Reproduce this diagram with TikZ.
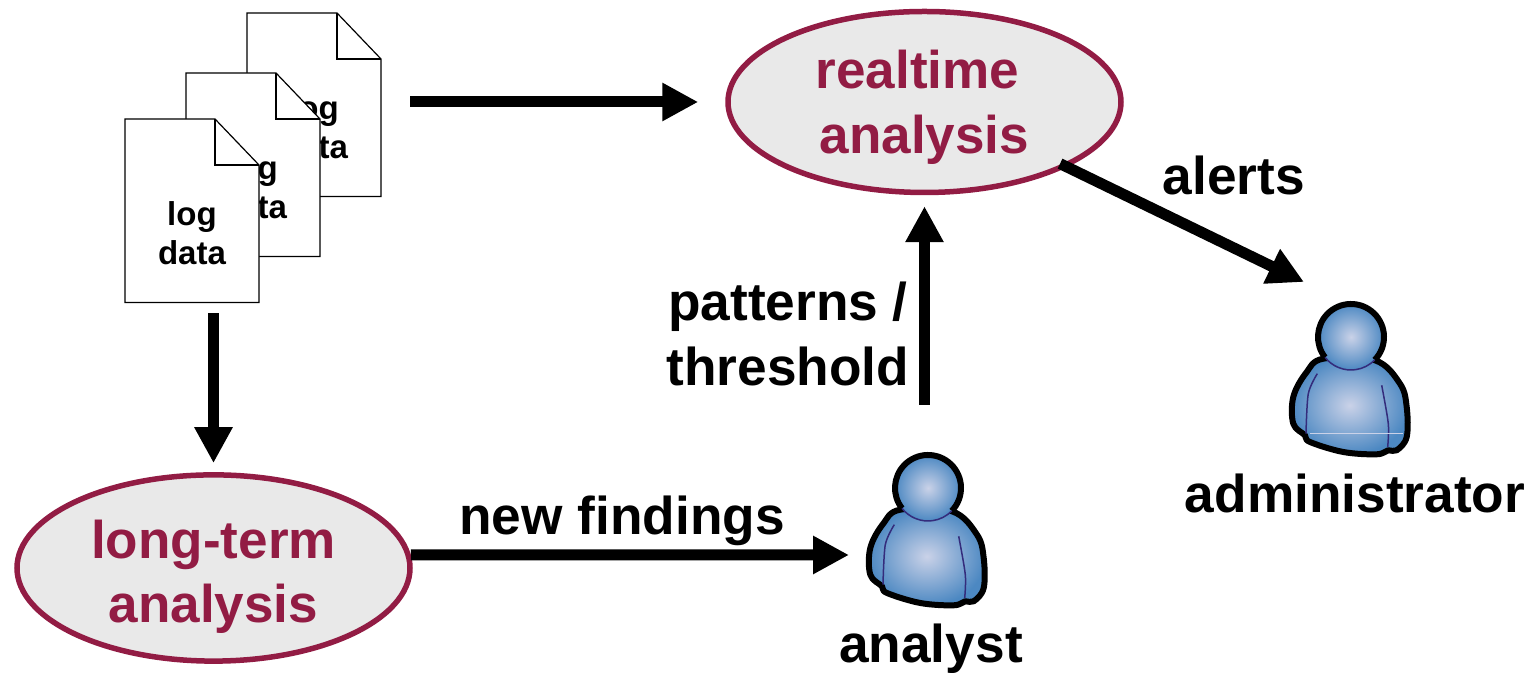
\documentclass[tikz,border=0pt]{standalone}
\usepackage{fontspec}
\usepackage{tikz}
\usetikzlibrary{arrows.meta,shapes.geometric}
\setmainfont{Liberation Sans}

\definecolor{wine}{RGB}{146,28,68}
\definecolor{bubble}{RGB}{233,233,233}
\definecolor{skin}{RGB}{76,136,194}
\definecolor{glow}{RGB}{202,210,232}
\definecolor{seam}{RGB}{52,44,124}

\tikzset{
  flow/.style={black, line width=0.11 cm, -{Triangle[length=0.36cm,width=0.36cm]}},
  bigtext/.style={font=\fontsize{15.15}{18.4}\selectfont\bfseries, align=center, inner sep=0},
  taskbubble/.style={ellipse, draw=wine, fill=bubble, line width=0.055 cm, text=wine, minimum width=3.93cm, minimum height=1.81cm, inner sep=0, font=\fontsize{15.1}{18.4}\selectfont\bfseries, align=center},
  logpage/.pic={
    \filldraw[fill=white, draw=black, line width=0.012 cm] (0,0) -- (0.9,0) -- (1.34,-0.46) -- (1.34,-1.835) -- (0,-1.835) -- cycle;
    \draw[black, line width=0.012 cm] (0.9,0) -- (0.9,-0.46) -- (1.34,-0.46);
    \node[minimum width=1.34cm, minimum height=1.835cm, inner sep=0, outer sep=0] (-text) at (0.67,-0.9175) {};
    \node[font=\fontsize{9.4}{11.2}\selectfont\bfseries, align=center, inner sep=0] (-label) at (0.67,-1.14) {log\\data};
  },
  person/.pic={
    \shade[draw=black, line width=0.06 cm, line join=round, inner color=glow, outer color=skin] plot[smooth cycle, tension=0.6] coordinates {(-0.277,-0.217) (-0.45,-0.36) (-0.577,-0.6) (-0.577,-0.867) (-0.46,-0.983) (-0.41,-1.05) (-0.077,-1.15) (0.257,-1.173) (0.373,-1.133) (0.457,-1.133) (0.557,-1) (0.557,-0.7) (0.49,-0.467) (0.24,-0.233)};
    \shade[inner color=glow, outer color=skin] (0,0) circle (0.33);
    \draw[black, line width=0.06 cm] (-44:0.33) arc (-44:218:0.33);
    \draw[seam, line width=0.015 cm] (218:0.33) arc (218:316:0.33);
    \draw[seam, line width=0.015 cm] plot[smooth] coordinates {(-0.337,-0.367) (-0.427,-0.567) (-0.45,-0.967)};
    \draw[seam, line width=0.015 cm] plot[smooth] coordinates {(0.307,-0.483) (0.373,-0.867) (0.367,-1.1)};
    \node[minimum width=1.2cm, minimum height=1.56cm, inner sep=0, outer sep=0] (-body) at (-0.01,-0.42) {};
  }
}

\begin{document}
\begin{tikzpicture}
\useasboundingbox (0,0) rectangle (15.29,6.73);

\pic (backlog) at (2.47,6.60) {logpage};
\pic (midlog) at (1.86,6.00) {logpage};
\pic (frontlog) at (1.25,5.54) {logpage};

\node[taskbubble] (realtime) at (9.245,5.71) {\rule{0pt}{0.49cm}realtime\rule{0.14cm}{0pt}\\analysis};
\node[taskbubble] (longterm) at (2.135,1.05) {\rule{0pt}{0.56cm}long-term\\analysis};

\pic (analyst) at (9.28,1.85) {person};
\pic (admin) at (13.51,3.36) {person};
\coordinate (glareleft) at (13.10,2.39);
\coordinate (glareright) at (14.03,2.39);
\draw[glow, line width=0.01 cm] (glareleft) -- (glareright);

\node[bigtext] (analystname) at (9.31,0.24) {analyst};
\node[bigtext] (adminname) at (13.55,1.80) {administrator};
\node[bigtext] (alertstext) at (12.34,4.98) {alerts};
\node[bigtext] (patternstext) at (7.88,3.39) {patterns /\\threshold};
\node[bigtext] (findingstext) at (6.22,1.52) {new findings};

\draw[flow, shorten <=0.29cm, shorten >=0.27cm] (backlog-text.east |- realtime.west) -- (realtime.west);
\draw[flow, shorten <=0.11cm, shorten >=0.09cm] (longterm.north |- frontlog-text.south) -- (longterm.north);
\draw[flow, shorten <=-0.02cm, shorten >=0.18cm] ([yshift=0.13cm]longterm.east) -- ([yshift=-0.25cm]analyst-body.west);
\draw[flow, shorten <=0.47cm, shorten >=0.11cm] (analyst-body.north -| realtime.south) -- (realtime.south);
\draw[flow] ([shift={(-0.12,0.01)}]realtime.-23.6) -- ([shift={(-0.46,0.19)}]admin-body.north);

\end{tikzpicture}
\end{document}
